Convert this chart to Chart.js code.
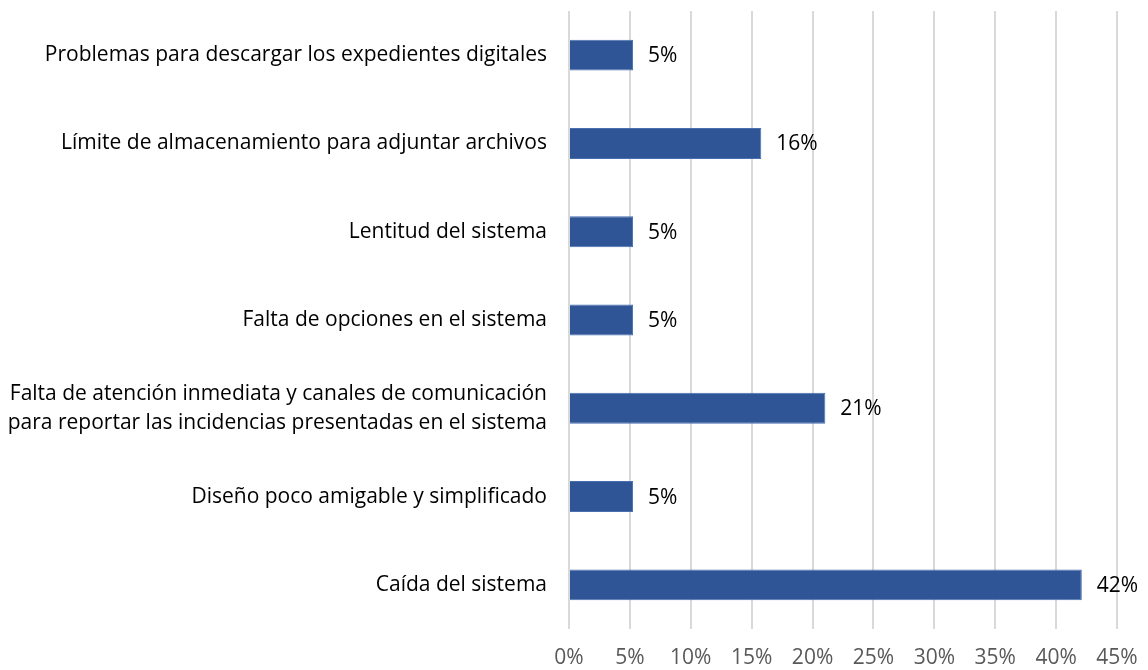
<!DOCTYPE html>
<html>
<head>
<meta charset="utf-8">
<script src="https://cdn.jsdelivr.net/npm/chart.js@4"></script>
<style>
html,body{margin:0;padding:0;background:#fff;}
#wrap{width:1148px;height:670px;position:relative;}
</style>
</head>
<body>
<div id="wrap"><canvas id="c" width="1148" height="670"></canvas></div>
<script>
const categories = [
  "Problemas para descargar los expedientes digitales",
  "Límite de almacenamiento para adjuntar archivos",
  "Lentitud del sistema",
  "Falta de opciones en el sistema",
  ["Falta de atención inmediata y canales de comunicación", "para reportar las incidencias presentadas en el sistema"],
  "Diseño poco amigable y simplificado",
  "Caída del sistema"
];
const values = [5.26, 15.79, 5.26, 5.26, 21.05, 5.26, 42.11];
const tickValues = [0, 5, 10, 15, 20, 25, 30, 35, 40, 45];

const FONT = "'Open Sans', sans-serif";
const FS = 21;

const dataLabels = {
  id: 'dataLabels',
  afterDatasetsDraw(chart) {
    const ctx = chart.ctx;
    const meta = chart.getDatasetMeta(0);
    ctx.save();
    ctx.font = FS + "px " + FONT;
    ctx.fillStyle = '#000000';
    ctx.textAlign = 'left';
    ctx.textBaseline = 'middle';
    meta.data.forEach((el, i) => {
      ctx.fillText(Math.round(values[i]) + '%', el.x + 15, el.y + 1);
    });
    ctx.restore();
  }
};

new Chart(document.getElementById('c'), {
  type: 'bar',
  data: {
    labels: categories,
    datasets: [{
      data: values,
      backgroundColor: '#2f5597',
      borderColor: '#4a6fb0',
      borderWidth: 1,
      categoryPercentage: 0.35,
      barPercentage: 1.0
    }]
  },
  options: {
    indexAxis: 'y',
    responsive: false,
    animation: false,
    layout: { padding: { top: 11, right: 31, bottom: 0, left: 0 } },
    plugins: { legend: { display: false }, tooltip: { enabled: false } },
    scales: {
      x: {
        min: 0, max: 45,
        afterBuildTicks(scale) { scale.ticks = tickValues.map(v => ({ value: v })); },
        afterFit(scale) {
          scale.height = 41;
          scale.paddingLeft = 0; scale.paddingRight = 0;
        },
        grid: { color: '#d9d9d9', lineWidth: 2, drawTicks: false },
        border: { display: false },
        ticks: {
          padding: 16,
          color: '#595959',
          font: { family: FONT, size: FS },
          callback: v => v + '%'
        }
      },
      y: {
        afterFit(scale) {
          scale.width = 569;
          scale.paddingTop = 0; scale.paddingBottom = 0;
        },
        grid: { display: false, drawTicks: false },
        border: { display: false },
        ticks: {
          padding: 22,
          color: '#000000',
          font: { family: FONT, size: FS, lineHeight: 1.4 }
        }
      }
    }
  },
  plugins: [dataLabels]
});
</script>
</body>
</html>
